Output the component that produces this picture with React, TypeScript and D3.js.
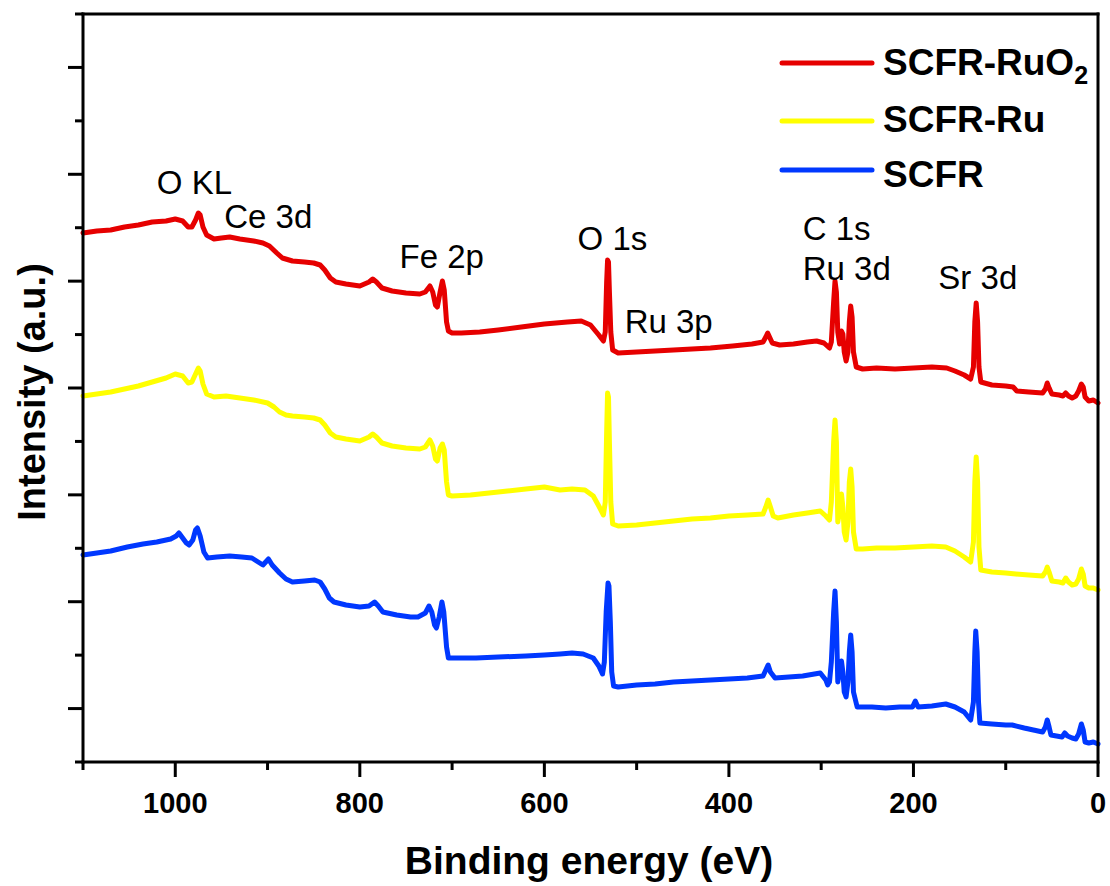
import React from "react";
import * as d3 from "d3";

type Pt = [number, number];

const redData: Pt[] = [
[1100,529],[1085,531],[1070,532],[1055,535],[1040,537],[1025,540],[1010,541],[1000,543],[992,541],[986,535],[982,535],[978,542],[975,549],[973,547],[970,535],[966,527],[958,523],[950,524],[941,525],[930,523],[915,521],[905,519],[898,516],[890,509],[884,504],[873,501],[860,500],[850,499],[843,497],[838,492],[832,484],[826,480],[815,478],[800,476],[790,480],[786,483],[782,480],[776,474],[765,471],[750,469],[735,468],[729,470],[724,476],[721,470],[718,457],[716,455],[713,470],[710.5,481],[708.5,472],[706,440],[704,431],[700,429],[690,429],[670,430],[650,432],[625,435],[600,438],[575,440],[560,441],[550,437],[541,427],[536,421],[534,430],[532.5,480],[531.5,502],[530.5,500],[529.5,470],[528,430],[526,412],[520,409],[500,410],[480,411],[460,412],[440,413],[420,414],[396,416],[375,418],[363,420],[360,425],[358,429],[356,425],[353,419],[345,417],[330,418],[315,420],[305,421],[297,419],[291,414],[289,420],[286.5,460],[285,481],[283.5,470],[282,430],[280,418],[278,431],[276.5,428],[275,410],[273,401],[271,410],[269.5,440],[268,456],[266.5,445],[265,410],[262,395],[255,393],[240,394],[220,393],[200,394],[180,395],[164,394],[155,391],[145,387],[138,383],[135,395],[133.5,440],[132,459],[130.5,440],[129,395],[127,380],[115,377],[100,376],[92,375],[88,371],[75,370],[60,369],[57,373],[55,379],[53,374],[50,368],[42,367],[38,366],[35,369],[32,366],[28,364],[24,366],[21,371],[18,378],[16,375],[14,365],[10,361],[5,362],[0,359]
];

const yellowData: Pt[] = [
[1100,366],[1085,368],[1070,370],[1055,373],[1040,376],[1025,380],[1010,384],[1000,388],[992,386],[986,379],[982,380],[978,388],[975,394],[973,391],[970,378],[966,368],[958,365],[945,366],[930,364],[915,362],[900,359],[893,355],[887,350],[880,347],[873,346],[860,345],[850,344],[843,342],[838,337],[832,329],[826,325],[815,323],[800,321],[790,325],[786,328],[782,325],[776,319],[765,316],[750,314],[735,313],[729,315],[724,322],[721,316],[718,303],[716,301],[713,314],[710.5,318],[708.5,312],[706,280],[704,267],[700,266],[680,267],[660,269],[640,271],[620,273],[600,275],[583,272],[570,273],[556,272],[547,266],[541,256],[536,247],[534,260],[532.5,330],[531.5,369],[530.5,365],[529.5,320],[528,260],[526,238],[520,236],[500,237],[480,239],[460,241],[440,243],[420,244],[400,246],[380,247],[363,248],[360,255],[357.5,262],[355,255],[352,246],[347,244],[330,247],[315,249],[301,251],[295,246],[291,242],[289,260],[286.5,320],[285,342],[283.5,320],[282,240],[280,250],[278,268],[276.5,255],[275,230],[273,222],[271,240],[269.5,280],[268,293],[266.5,275],[265,230],[262,213],[255,213],[240,214],[220,214],[200,215],[180,216],[165,215],[155,211],[145,205],[138,200],[135,220],[133.5,280],[132,305],[130.5,280],[129,215],[127,192],[115,190],[100,189],[89,188],[75,187],[60,186],[57,190],[55,195],[53,190],[50,181],[42,180],[38,179],[35,184],[32,180],[28,177],[24,178],[21,183],[18,193],[16,188],[14,176],[10,174],[5,174],[0,172]
];

const blueData: Pt[] = [
[1100,207],[1085,209],[1070,211],[1052,215],[1035,218],[1020,220],[1005,223],[999,226],[996,229],[992,224],[988,219],[985,217],[981,222],[978,232],[976,234],[973,226],[969,210],[965,204],[955,205],[941,206],[928,205],[917,204],[905,197],[901,201],[899,203],[895,197],[887,189],[880,183],[873,180],[860,181],[849,182],[843,180],[838,173],[833,164],[828,160],[815,157],[800,155],[790,156],[784,160],[780,156],[775,150],[760,147],[745,145],[737,145],[729,149],[725,156],[722,150],[719,137],[717,134],[714,145],[711,160],[709,150],[706,115],[704,104],[695,104],[674,104],[650,105],[620,106],[600,107],[583,108],[570,109],[558,108],[547,104],[541,96],[537,88],[535,100],[533,150],[531,179],[530,176],[528.5,140],[527,90],[525,76],[520,75],[500,77],[480,78],[460,80],[440,81],[420,82],[400,83],[380,84],[363,86],[360,92],[357.5,97],[355,90],[350,84],[335,85],[320,86],[301,89],[295,82],[293,77],[291,80],[289,100],[286.5,150],[285,171],[283.5,140],[282,80],[280,90],[278,101],[276.5,90],[275,70],[273,65],[271,80],[269.5,110],[268,127],[266.5,110],[265,70],[261,55],[245,55],[230,54],[215,55],[201,55],[198,61],[195,55],[180,56],[165,58],[155,55],[145,50],[138,42],[135,60],[133.5,110],[132.5,131],[131,110],[129.5,60],[128,39],[115,38],[100,37],[93,37],[80,34],[65,31],[60,30],[57,35],[55,42],[53,35],[51,27],[45,26],[39,25],[36,29],[33,26],[28,24],[24,23],[21,28],[18,38],[16,32],[14,20],[10,19],[5,20],[0,18]
];

const seriesNames = ["SCFR-RuO", "SCFR-Ru", "SCFR"];
const seriesColors = ["#e60000", "#ffff00", "#0038ff"];

const xMajorTicks = [1000, 800, 600, 400, 200, 0];
const xMinorTicks = [1100, 900, 700, 500, 300, 100];

const peakLabels: { text: string; ev: number; v: number }[] = [
  { text: "O KL", ev: 1020, v: 568 },
  { text: "Ce 3d", ev: 947, v: 534 },
  { text: "Fe 2p", ev: 757, v: 494 },
  { text: "O 1s", ev: 564, v: 512 },
  { text: "Ru 3p", ev: 513, v: 429 },
  { text: "C 1s", ev: 320, v: 522 },
  { text: "Ru 3d", ev: 320, v: 482 },
  { text: "Sr 3d", ev: 173, v: 473 },
];

const FONT = "'Liberation Sans', Arial, Helvetica, sans-serif";

export default function App() {
  const W = 1110, H = 886;
  const x = d3.scaleLinear().domain([1100, 0]).range([83, 1098]);
  const y = d3.scaleLinear().domain([0, 748]).range([762, 14]);
  const yTicks = d3.range(0, 15).map((k) => ({ v: (k * 748) / 14, major: k % 2 === 1 }));
  const line = d3
    .line<Pt>()
    .x((d) => x(d[0]))
    .y((d) => y(d[1]))
    .curve(d3.curveLinear);

  const datasets = [redData, yellowData, blueData];
  const [x0, x1] = x.range();
  const [yb, yt] = y.range();

  const legendY = [63, 121, 170];
  const legendTextY = [75, 132, 187];

  return (
    <svg
      width={W}
      height={H}
      style={{ position: "absolute", left: 0, top: 0, background: "#fff" }}
      fontFamily={FONT}
    >
      <rect x={0} y={0} width={W} height={H} fill="#fff" />
      {[2, 1, 0].map((i) => (
        <path
          key={i}
          d={line(datasets[i]) || ""}
          fill="none"
          stroke={seriesColors[i]}
          strokeWidth={5}
          strokeLinejoin="round"
          strokeLinecap="round"
        />
      ))}
      <g stroke="#000" strokeWidth={3} strokeLinecap="square">
        <line x1={x0} y1={yt} x2={x1} y2={yt} />
        <line x1={x1} y1={yt} x2={x1} y2={yb} />
        <line x1={x0} y1={yb} x2={x1} y2={yb} />
        <line x1={x0} y1={yt} x2={x0} y2={yb} />
      </g>
      <g stroke="#000" strokeWidth={3}>
        {xMajorTicks.map((t) => (
          <line key={"xM" + t} x1={x(t)} x2={x(t)} y1={yb} y2={yb + 15} />
        ))}
        {xMinorTicks.map((t) => (
          <line key={"xm" + t} x1={x(t)} x2={x(t)} y1={yb} y2={yb + 8} />
        ))}
        {yTicks.map((t, i) => (
          <line key={"y" + i} x1={x0 - (t.major ? 15 : 8)} x2={x0} y1={y(t.v)} y2={y(t.v)} />
        ))}
      </g>
      {xMajorTicks.map((t) => (
        <text
          key={"xl" + t}
          x={x(t)}
          y={813}
          textAnchor="middle"
          fontSize={29}
          fontWeight="bold"
          fill="#000"
        >
          {t}
        </text>
      ))}
      <text x={589} y={874} textAnchor="middle" fontSize={39} fontWeight="bold" fill="#000">
        Binding energy (eV)
      </text>
      <text
        transform="translate(45,392) rotate(-90)"
        textAnchor="middle"
        fontSize={38}
        fontWeight="bold"
        fill="#000"
      >
        Intensity (a.u.)
      </text>
      {peakLabels.map((p) => (
        <text key={p.text + p.ev} x={x(p.ev)} y={y(p.v)} fontSize={33} fill="#000">
          {p.text}
        </text>
      ))}
      {seriesNames.map((n, i) => (
        <g key={n}>
          <line
            x1={782}
            x2={872}
            y1={legendY[i]}
            y2={legendY[i]}
            stroke={seriesColors[i]}
            strokeWidth={5}
            strokeLinecap="round"
          />
          <text x={883} y={legendTextY[i]} fontSize={37} fontWeight="bold" fill="#000">
            {n}
            {i === 0 ? (
              <tspan fontSize={25} dy={9}>
                2
              </tspan>
            ) : null}
          </text>
        </g>
      ))}
    </svg>
  );
}
